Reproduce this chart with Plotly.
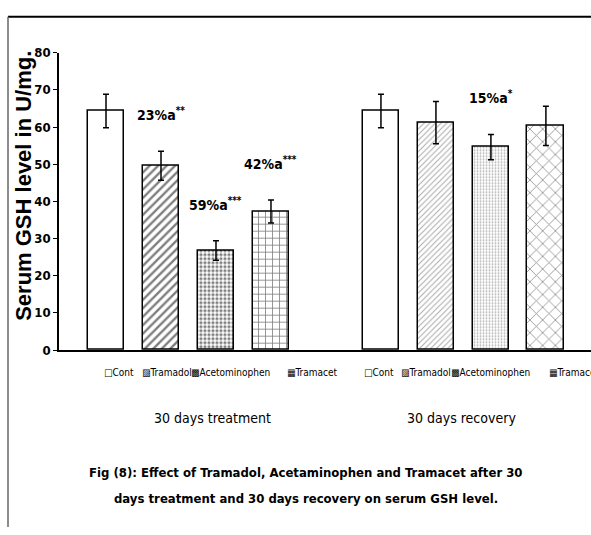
import plotly.graph_objects as go

groups = ["30 days treatment", "30 days recovery"]
treatments = ["Cont", "Tramadol", "Acetominophen", "Tramacet"]
treatment_means = [64.3, 49.6, 26.8, 37.3]
treatment_err = [4.5, 3.9, 2.6, 3.1]
recovery_means = [64.3, 61.2, 54.6, 60.3]
recovery_err = [4.5, 5.7, 3.4, 5.3]
treatment_labels = ["", "23%a<sup>**</sup>", "59%a<sup>***</sup>", "42%a<sup>***</sup>"]
recovery_labels = ["", "", "15%a<sup>*</sup>", ""]
legend_icons = ["□", "▨", "▩", "▦"]
caption = ["Fig (8): Effect of Tramadol, Acetaminophen and Tramacet after 30",
           "days treatment and 30 days recovery on serum GSH level."]

W, H = 591, 535
FONT = "DejaVu Sans Condensed, Liberation Sans Narrow, Arial Narrow, Liberation Sans"

def px(x):
    return x / W

def py(y):
    return 1 - y / H

fig = go.Figure()

group_offset = [0, 5]
patterns_t = dict(shape=["", "/", ".", "+"], size=[6, 6, 4, 7], solidity=[0.2, 0.4, 0.5, 0.22],
                  fgcolor="black", bgcolor="white")
patterns_r = dict(shape=["", "/", ".", "x"], size=[6, 4, 3, 9], solidity=[0.2, 0.25, 0.3, 0.18],
                  fgcolor=["black", "#555", "#666", "#222"], bgcolor="white")

for gi, (means, errs, pat) in enumerate([(treatment_means, treatment_err, patterns_t),
                                          (recovery_means, recovery_err, patterns_r)]):
    xs = [group_offset[gi] + i for i in range(len(treatments))]
    fig.add_trace(go.Bar(
        x=xs, y=means, width=0.67,
        marker=dict(color="white", line=dict(color="black", width=1.5), pattern=pat),
        error_y=dict(type="data", array=errs, visible=True, color="black", thickness=1.5, width=3),
        showlegend=False, name=groups[gi],
    ))

annots = []
for gi, (means, errs, labels) in enumerate([(treatment_means, treatment_err, treatment_labels),
                                             (recovery_means, recovery_err, recovery_labels)]):
    for i, lab in enumerate(labels):
        if lab:
            annots.append(dict(x=group_offset[gi] + i, y=means[i] + errs[i] + 10, xref="x", yref="y",
                               text=lab, showarrow=False, yanchor="middle",
                               font=dict(family=FONT, size=14, color="black", weight="bold")))

# legends (text rows under the axis)
legend_x = [[102, 140, 189, 285], [362, 399, 449, 547]]
for gi in range(2):
    for i, name in enumerate(treatments):
        annots.append(dict(x=px(legend_x[gi][i]), y=py(376), xref="paper", yref="paper",
                           xanchor="left", yanchor="middle", showarrow=False,
                           text=legend_icons[i] + name,
                           font=dict(family=FONT, size=10, color="black")))

group_label_x = [212, 461]
for gi, g in enumerate(groups):
    annots.append(dict(x=px(group_label_x[gi]), y=py(423), xref="paper", yref="paper",
                       xanchor="center", yanchor="middle", showarrow=False, text=g,
                       font=dict(family=FONT, size=14, color="black")))

for li, line in enumerate(caption):
    annots.append(dict(x=px(306), y=py(479 + 27 * li), xref="paper", yref="paper",
                       xanchor="center", yanchor="middle", showarrow=False, text="<b>" + line + "</b>",
                       font=dict(family=FONT, size=13, color="black")))

annots.append(dict(x=px(24), y=py(184), xref="paper", yref="paper", textangle=-90,
                   xanchor="center", yanchor="middle", showarrow=False,
                   text="<b>Serum GSH level in U/mg.</b>",
                   font=dict(family="Liberation Sans, Arial", size=22, color="black")))

shapes = [
    dict(type="line", xref="paper", yref="paper", x0=px(8), x1=1, y0=py(10), y1=py(10),
         line=dict(color="black", width=2)),
    dict(type="line", xref="paper", yref="paper", x0=px(8), x1=px(8), y0=py(10), y1=0,
         line=dict(color="#666", width=1.5)),
]

fig.update_layout(
    width=W, height=H, margin=dict(l=0, r=0, t=0, b=0),
    paper_bgcolor="white", plot_bgcolor="white",
    bargap=0, annotations=annots, shapes=shapes,
    xaxis=dict(domain=[px(59), 1], range=[-0.855, 8.82], showline=True, linecolor="black",
               linewidth=2, showticklabels=False, ticks="", showgrid=False, zeroline=False),
    yaxis=dict(domain=[py(353), py(47)], range=[0, 80], dtick=10, showline=True, linecolor="black",
               linewidth=1.5, ticks="outside", ticklen=4, tickcolor="black", showgrid=False,
               zeroline=False, tickfont=dict(family=FONT, size=13, color="black", weight="bold")),
)

fig.write_html("out.html")
